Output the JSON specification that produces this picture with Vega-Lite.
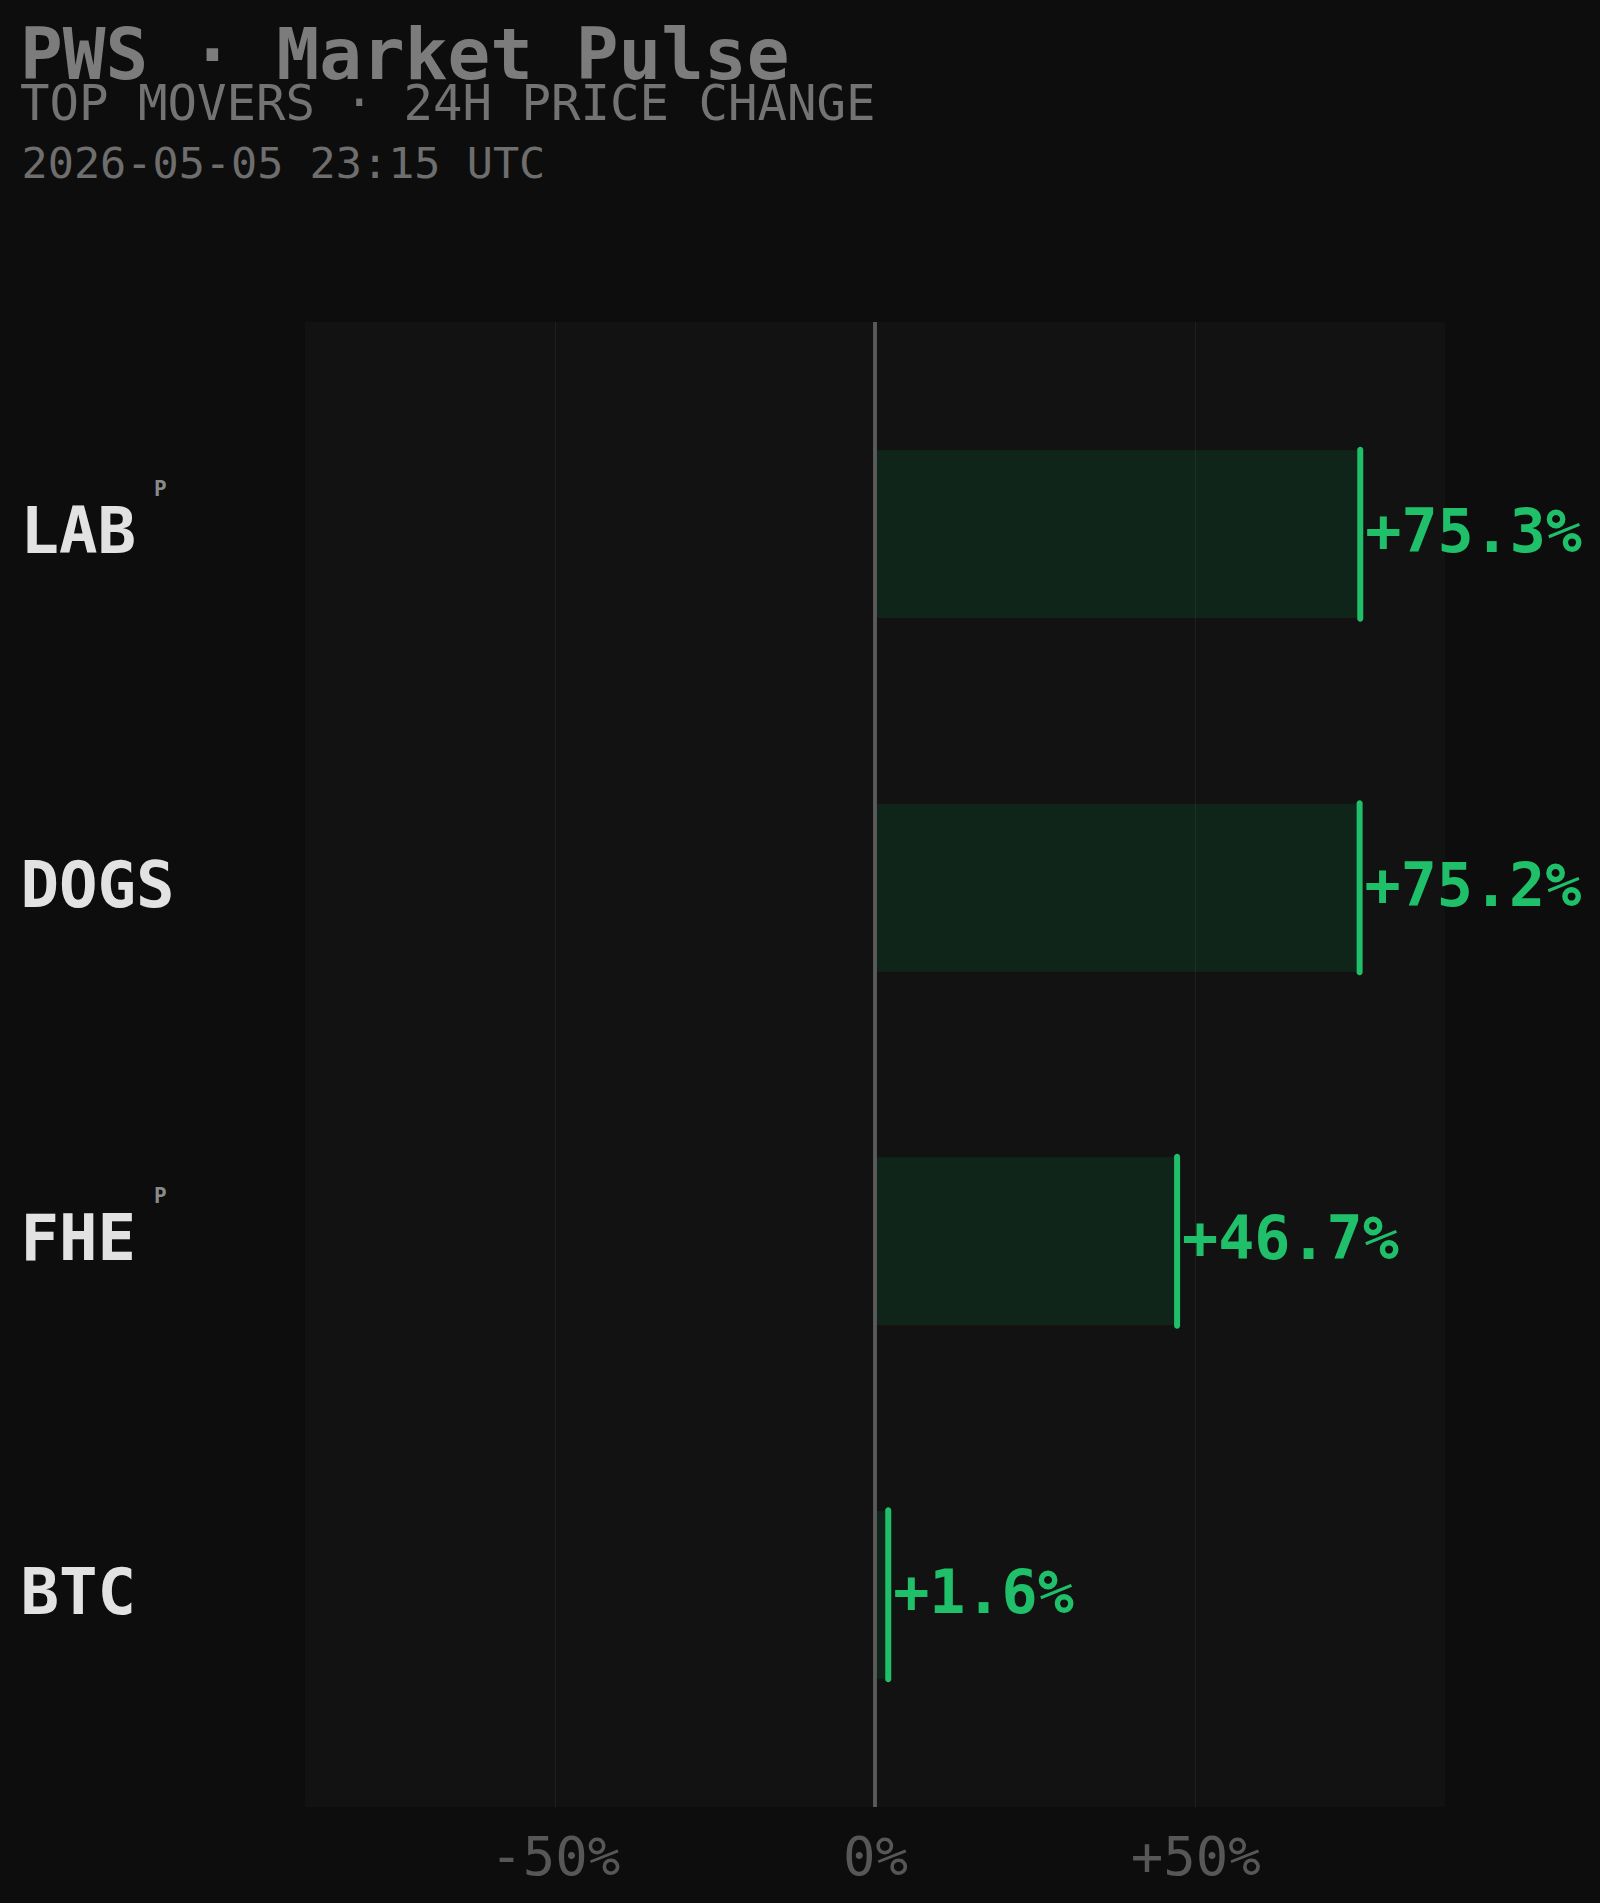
{
  "$schema": "https://vega.github.io/schema/vega-lite/v6.json",
  "autosize": {"type": "none"},
  "width": 1140,
  "height": 1485,
  "padding": {"left": 305, "top": 322, "right": 155, "bottom": 96},
  "background": "#0d0d0d",
  "title": {
    "text": "PWS · Market Pulse",
    "subtitle": "TOP MOVERS · 24H PRICE CHANGE",
    "anchor": "start",
    "frame": "bounds",
    "font": "DejaVu Sans Mono",
    "fontSize": 71,
    "fontWeight": "bold",
    "color": "#7c7c7c",
    "subtitleFont": "DejaVu Sans Mono",
    "subtitleFontSize": 49,
    "subtitleColor": "#737373",
    "subtitlePadding": -13,
    "offset": 11
  },
  "config": {
    "view": {"fill": "#121212", "stroke": null},
    "font": "DejaVu Sans Mono"
  },
  "data": {
    "values": [
      {"token": "LAB", "change": 75.3, "label": "+75.3%", "tag": "P"},
      {"token": "DOGS", "change": 75.2, "label": "+75.2%", "tag": ""},
      {"token": "FHE", "change": 46.7, "label": "+46.7%", "tag": "P"},
      {"token": "BTC", "change": 1.6, "label": "+1.6%", "tag": ""}
    ]
  },
  "layer": [
    {
      "mark": {"type": "bar", "color": "#00d060", "opacity": 0.1, "height": {"band": 0.475}},
      "encoding": {
        "y": {
          "field": "token",
          "type": "nominal",
          "sort": null,
          "scale": {"type": "band", "paddingInner": 0, "paddingOuter": 0.1},
          "axis": {
            "title": "2026-05-05 23:15 UTC",
            "titleAngle": 0,
            "titleAlign": "left",
            "titleBaseline": "alphabetic",
            "titleX": -284,
            "titleY": -145,
            "titleFont": "DejaVu Sans Mono",
            "titleFontSize": 43.5,
            "titleFontWeight": "normal",
            "titleColor": "#6e6e6e",
            "domain": false,
            "ticks": false,
            "grid": false,
            "labelAlign": "left",
            "labelPadding": 285,
            "labelFont": "DejaVu Sans Mono",
            "labelFontSize": 64,
            "labelFontWeight": "bold",
            "labelColor": "#e2e2e2",
            "labelBaseline": "middle"
          }
        },
        "x": {
          "field": "change",
          "type": "quantitative",
          "scale": {"domain": [-89, 89], "nice": false, "zero": true},
          "axis": {
            "title": null,
            "values": [-50, 0, 50],
            "domain": false,
            "ticks": false,
            "grid": true,
            "gridColor": {"condition": {"test": "datum.value === 0", "value": "#0000"}, "value": "#1f1f1f"},
            "gridWidth": 1,
            "labelExpr": "datum.value > 0 ? '+' + datum.value + '%' : datum.value + '%'",
            "labelFont": "DejaVu Sans Mono",
            "labelFontSize": 54,
            "labelColor": "#575757",
            "labelPadding": 24
          }
        }
      }
    },
    {
      "mark": {"type": "rule", "color": "#5a5a5a", "strokeWidth": 3},
      "encoding": {"x": {"datum": 0, "type": "quantitative"}}
    },
    {
      "mark": {"type": "tick", "color": "#20c06b", "size": 175, "thickness": 6, "cornerRadius": 3, "xOffset": 3, "opacity": 1},
      "encoding": {
        "x": {"field": "change", "type": "quantitative"},
        "y": {"field": "token", "type": "nominal", "sort": null}
      }
    },
    {
      "mark": {"type": "text", "align": "left", "baseline": "middle", "dx": 8, "fontSize": 60, "fontWeight": "bold", "color": "#20c06b", "font": "DejaVu Sans Mono"},
      "encoding": {
        "x": {"field": "change", "type": "quantitative"},
        "y": {"field": "token", "type": "nominal", "sort": null},
        "text": {"field": "label"}
      }
    },
    {
      "mark": {"type": "text", "align": "left", "baseline": "middle", "dx": -151, "dy": -44, "fontSize": 21, "fontWeight": "bold", "color": "#8a8a8a", "font": "DejaVu Sans Mono"},
      "encoding": {
        "x": {"datum": -89, "type": "quantitative"},
        "y": {"field": "token", "type": "nominal", "sort": null},
        "text": {"field": "tag"}
      }
    }
  ]
}
